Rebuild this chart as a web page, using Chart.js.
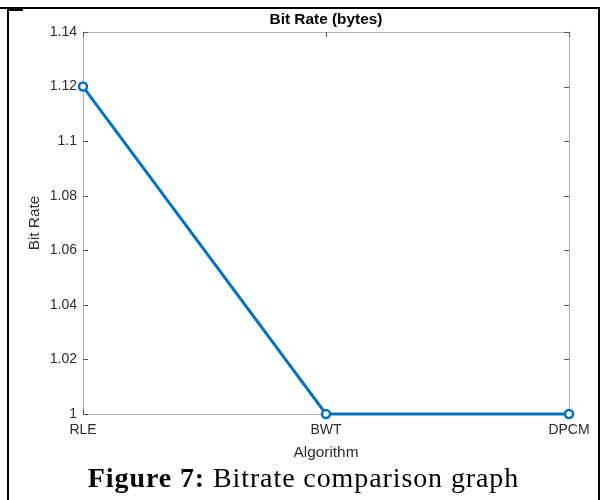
<!DOCTYPE html>
<html>
<head>
<meta charset="utf-8">
<script src="https://cdn.jsdelivr.net/npm/chart.js@4/dist/chart.umd.min.js"></script>
<style>
    body { margin: 0; background: #fff; }
    #wrap { position: relative; width: 607px; height: 500px; overflow: hidden; }
    #bitChart { position: absolute; left: 0; top: 0; }
    .rule { position: absolute; background: #000; }
    #caption {
        position: absolute; left: 0; top: 464px; width: 607px;
        text-align: center; font-family: "Liberation Serif", serif;
        font-size: 28px; line-height: 28px; letter-spacing: 0.9px; color: #000;
    }
</style>
</head>
<body>
<div id="wrap">
    <canvas id="bitChart" width="607" height="500"></canvas>
    <div class="rule" style="left:0;top:7px;width:600px;height:2px"></div>
    <div class="rule" style="left:7px;top:9px;width:2px;height:491px"></div>
    <div class="rule" style="left:7px;top:9px;width:16px;height:2px"></div>
    <div class="rule" style="left:598px;top:9px;width:2px;height:491px"></div>
    <div id="caption"><b>Figure 7:</b> Bitrate comparison graph</div>
</div>
<script>
// values
const algorithms = ['RLE', 'BWT', 'DPCM'];
const bitRates = [1.12, 1, 1];
const yMin = 1;
const yMax = 1.14;
const yStep = 0.02;

const matlabBlue = '#0072BD';
const tickFont = { family: 'Arial, "Liberation Sans", sans-serif', size: 14 };
const labelFont = { family: 'Arial, "Liberation Sans", sans-serif', size: 15.4 };

// box around the plot with inward tick marks, like a MATLAB axes
const axesBox = {
    id: 'axesBox',
    beforeDatasetsDraw(chart) {
        const { ctx, chartArea: a, scales } = chart;
        const tickLen = 5;
        ctx.save();
        ctx.lineWidth = 1;
        ctx.strokeStyle = '#b3b3b3';
        ctx.strokeRect(Math.round(a.left) + 0.5, Math.round(a.top) + 0.5,
            Math.round(a.right - a.left), Math.round(a.bottom - a.top));
        ctx.strokeStyle = '#555';
        ctx.beginPath();
        scales.y.ticks.forEach((t, i) => {
            const y = Math.round(scales.y.getPixelForTick(i)) + 0.5;
            ctx.moveTo(a.left, y); ctx.lineTo(a.left + tickLen, y);
            ctx.moveTo(a.right, y); ctx.lineTo(a.right - tickLen, y);
        });
        scales.x.ticks.forEach((t, i) => {
            const x = Math.round(scales.x.getPixelForTick(i)) + 0.5;
            ctx.moveTo(x, a.bottom); ctx.lineTo(x, a.bottom - tickLen);
            ctx.moveTo(x, a.top); ctx.lineTo(x, a.top + tickLen);
        });
        ctx.stroke();
        ctx.restore();
    }
};

new Chart(document.getElementById('bitChart'), {
    type: 'line',
    data: {
        labels: algorithms,
        datasets: [{
            label: 'Bit Rate',
            data: bitRates,
            borderColor: matlabBlue,
            borderWidth: 3,
            tension: 0,
            fill: false,
            clip: false,
            pointRadius: 4,
            pointBorderWidth: 2.5,
            pointBorderColor: matlabBlue,
            pointBackgroundColor: '#fff'
        }]
    },
    options: {
        responsive: false,
        animation: false,
        devicePixelRatio: 1,
        layout: { padding: { left: 0, right: 38, top: 0, bottom: 0 } },
        plugins: {
            legend: { display: false },
            tooltip: { enabled: false },
            title: {
                display: true,
                fullSize: false,
                text: 'Bit Rate (bytes)',
                color: '#000',
                font: { family: labelFont.family, size: 15.4, weight: 'bold' },
                padding: { top: 10.5, bottom: 3 }
            }
        },
        scales: {
            x: {
                type: 'category',
                offset: false,
                grid: { display: false, drawTicks: false },
                border: { display: false },
                ticks: { color: '#2b2b2b', font: tickFont, padding: 8, maxRotation: 0, autoSkip: false },
                title: {
                    display: true, text: 'Algorithm', color: '#2b2b2b', font: labelFont,
                    padding: { top: 0, bottom: 37.8 }
                },
                afterFit(scale) { scale.height = 86; }
            },
            y: {
                min: yMin,
                max: yMax,
                grid: { display: false, drawTicks: false },
                border: { display: false },
                ticks: {
                    stepSize: yStep,
                    color: '#2b2b2b',
                    font: tickFont,
                    padding: 6,
                    callback: function(value) {
                        return String(+value.toFixed(2));
                    }
                },
                title: {
                    display: true, text: 'Bit Rate', color: '#2b2b2b', font: labelFont,
                    padding: { top: 25.5, bottom: 0 }
                },
                afterFit(scale) { scale.width = 83; }
            }
        }
    },
    plugins: [axesBox]
});
</script>
</body>
</html>
